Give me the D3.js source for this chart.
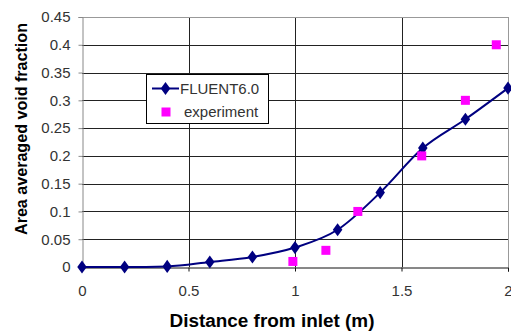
<!DOCTYPE html>
<html><head><meta charset="utf-8">
<script src="https://cdn.jsdelivr.net/npm/d3@7"></script>
<style>body{margin:0;background:#fff}svg{display:block}</style>
</head><body>
<script>
const fluentX = [0, 0.2, 0.4, 0.6, 0.8, 1.0, 1.2, 1.4, 1.6, 1.8, 2.0];
const fluentY = [0, 0, 0.001, 0.009, 0.018, 0.035, 0.067, 0.134, 0.214, 0.266, 0.322];
const expX = [0.99, 1.145, 1.295, 1.595, 1.8, 1.945];
const expY = [0.01, 0.03, 0.10, 0.20, 0.30, 0.40];
const xTicks = [0, 0.5, 1, 1.5, 2];
const yTicks = [0, 0.05, 0.1, 0.15, 0.2, 0.25, 0.3, 0.35, 0.4, 0.45];
const seriesNames = ["FLUENT6.0", "experiment"];
const xTitle = "Distance from inlet (m)";
const yTitle = "Area averaged void fraction";

const W = 511, H = 331;
const L = 82, R = 508, T = 17, B = 267;
const svg = d3.select("body").append("svg").attr("width", W).attr("height", H);
const x = d3.scaleLinear().domain([0, 2]).range([L, R]);
const y = d3.scaleLinear().domain([0, 0.45]).range([B, T]);
const font = "Liberation Sans, Arial, sans-serif";

// horizontal gridlines
svg.append("g").selectAll("line").data(yTicks.filter(d => d > 0 && d < 0.45)).join("line")
  .attr("x1", L).attr("x2", R).attr("y1", d => Math.round(y(d)) + 0.5).attr("y2", d => Math.round(y(d)) + 0.5)
  .attr("stroke", "#222").attr("stroke-width", 1);
// vertical gridlines
svg.append("g").selectAll("line").data(xTicks.filter(d => d > 0 && d < 2)).join("line")
  .attr("x1", d => Math.round(x(d)) + 0.5).attr("x2", d => Math.round(x(d)) + 0.5).attr("y1", T).attr("y2", B)
  .attr("stroke", "#222").attr("stroke-width", 1);
// top & right border
svg.append("line").attr("x1", L).attr("x2", R + 0.5).attr("y1", T + 0.5).attr("y2", T + 0.5).attr("stroke", "#999");
svg.append("line").attr("x1", R + 0.5).attr("x2", R + 0.5).attr("y1", T).attr("y2", B).attr("stroke", "#999");

// axes
const yAxis = svg.append("g").attr("transform", `translate(${L + 0.5},0)`)
  .call(d3.axisLeft(y).tickValues(yTicks).tickSize(4).tickPadding(8).tickFormat(d => d3.format("")(+d.toFixed(2))));
yAxis.select(".domain").attr("stroke", "#888");
yAxis.selectAll(".tick line").attr("stroke", "#888");
yAxis.selectAll("text").attr("font-family", font).attr("font-size", 15).attr("fill", "#333");

const xAxis = svg.append("g").attr("transform", `translate(0,${B + 0.5})`)
  .call(d3.axisBottom(x).tickValues(xTicks).tickSize(4).tickPadding(14).tickFormat(d => d3.format("")(d)));
xAxis.select(".domain").attr("stroke", "#111");
xAxis.selectAll(".tick line").attr("stroke", "#111");
xAxis.selectAll("text").attr("font-family", font).attr("font-size", 15).attr("fill", "#333");

// titles
svg.append("text").attr("x", 272).attr("y", 327).attr("text-anchor", "middle")
  .attr("font-family", font).attr("font-weight", "bold").attr("font-size", 18)
  .attr("textLength", 205).attr("lengthAdjust", "spacingAndGlyphs")
  .attr("fill", "#000").text(xTitle);
svg.append("text").attr("transform", "translate(27,129) rotate(-90)").attr("text-anchor", "middle")
  .attr("font-family", font).attr("font-weight", "bold").attr("font-size", 16)
  .attr("textLength", 212).attr("lengthAdjust", "spacingAndGlyphs")
  .attr("fill", "#000").text(yTitle);

// FLUENT line
const pts = fluentX.map((d, i) => [d, fluentY[i]]);
svg.append("path").datum(pts)
  .attr("d", d3.line().x(d => x(d[0])).y(d => y(d[1])).curve(d3.curveMonotoneX))
  .attr("fill", "none").attr("stroke", "#000080").attr("stroke-width", 2);
const diamond = d3.symbol().type(d3.symbolDiamond).size(50);
svg.append("g").selectAll("path").data(pts).join("path")
  .attr("d", diamond).attr("transform", d => `translate(${x(d[0])},${y(d[1])}) scale(1.25,1)`)
  .attr("fill", "#000080");

// experiment
const ex = expX.map((d, i) => [d, expY[i]]);
svg.append("g").selectAll("rect").data(ex).join("rect")
  .attr("x", d => x(d[0]) - 4.5).attr("y", d => y(d[1]) - 4.5).attr("width", 9).attr("height", 9)
  .attr("fill", "#FF00FF");

// legend
const lg = svg.append("g");
lg.append("rect").attr("x", 146.5).attr("y", 74.5).attr("width", 122).attr("height", 49)
  .attr("fill", "#fff").attr("stroke", "#000").attr("stroke-width", 1);
lg.append("line").attr("x1", 152).attr("x2", 179).attr("y1", 88.5).attr("y2", 88.5).attr("stroke", "#000080").attr("stroke-width", 2);
lg.append("path").attr("d", diamond).attr("transform", "translate(165.5,88.5) scale(1.25,1)").attr("fill", "#000080");
lg.append("rect").attr("x", 161.5).attr("y", 107.5).attr("width", 9).attr("height", 9).attr("fill", "#FF00FF");
lg.append("text").attr("x", 180).attr("y", 93.5).attr("font-family", font).attr("font-size", 15).attr("fill", "#333").text(seriesNames[0]);
lg.append("text").attr("x", 184).attr("y", 116.5).attr("font-family", font).attr("font-size", 15).attr("fill", "#333").text(seriesNames[1]);
</script>
</body></html>
